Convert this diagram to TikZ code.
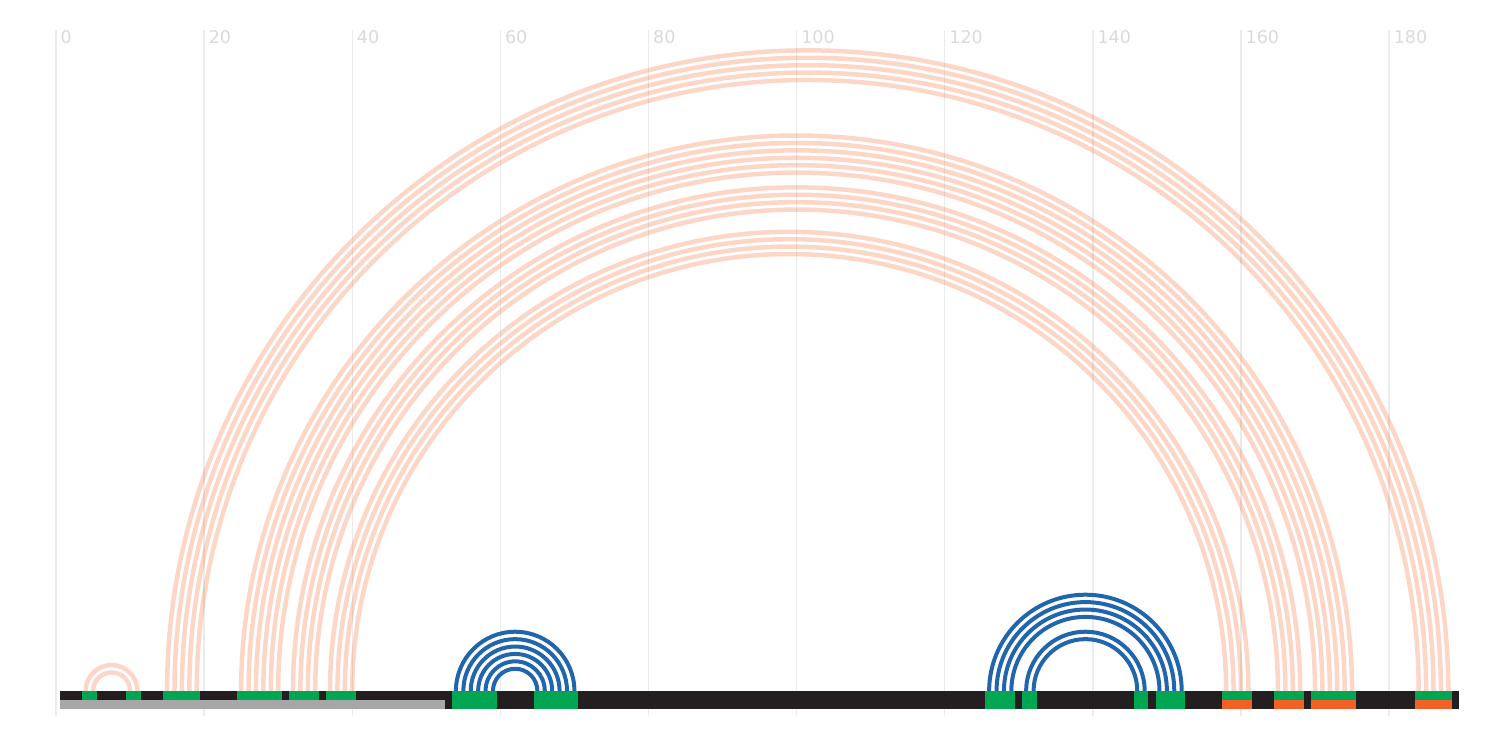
\documentclass[tikz,border=0pt]{standalone}
\usepackage{fontspec}
\setmainfont{DejaVu Sans}
\usetikzlibrary{calc}
\definecolor{strand}{HTML}{231F20}
\definecolor{paired}{HTML}{00A651}
\definecolor{flagged}{HTML}{F26025}
\definecolor{masked}{HTML}{A7A7A7}
\definecolor{helix}{HTML}{2166AC}
\definecolor{gridgray}{HTML}{EBEBEB}
\definecolor{ticktext}{HTML}{DADADA}

\begin{document}
\begin{tikzpicture}[x=7.406pt,y=7.406pt,
    grid line/.style={draw=gridgray,line width=1.4pt},
    tick label/.style={anchor=north west,inner sep=0pt,xshift=4.5pt,text=ticktext,font=\fontsize{17.5}{17.5}\selectfont},
    half circle/.style={to path={let \p1=(\tikztostart),\p2=(\tikztotarget) in arc[start angle=180,end angle=0,radius={(\x2-\x1)/2}]}},
    long range/.style={half circle,draw=flagged,draw opacity=0.25,line width=4.5pt},
    local range/.style={half circle,draw=helix,line width=4pt},
    strand box/.style={fill=strand},
    paired box/.style={fill=paired},
    masked box/.style={fill=masked},
    flagged box/.style={fill=flagged}]
            \useasboundingbox (-7.561,-7.156) rectangle (196.6,93.30);

            \foreach \v in {0,20,...,180}{
                \draw[grid line] (\v,-3.38) -- (\v,89.25);
                \node[tick label] (tick\v) at (\v,89.25) {\v};
            }

            \foreach \i in {1,...,189}
                \coordinate (n\i) at (\i,0);

            \path
                (n4) edge[long range] (n11)
                (n5) edge[long range] (n10)

                (n15) edge[long range] (n188)
                (n16) edge[long range] (n187)
                (n17) edge[long range] (n186)
                (n18) edge[long range] (n185)
                (n19) edge[long range] (n184)

                (n25) edge[long range] (n175)
                (n26) edge[long range] (n174)
                (n27) edge[long range] (n173)
                (n28) edge[long range] (n172)
                (n29) edge[long range] (n171)
                (n30) edge[long range] (n170)

                (n32) edge[long range] (n168)
                (n33) edge[long range] (n167)
                (n34) edge[long range] (n166)
                (n35) edge[long range] (n165)

                (n37) edge[long range] (n161)
                (n38) edge[long range] (n160)
                (n39) edge[long range] (n159)
                (n40) edge[long range] (n158)
            ;

            \path
                (n54) edge[local range] (n70)
                (n55) edge[local range] (n69)
                (n56) edge[local range] (n68)
                (n57) edge[local range] (n67)
                (n58) edge[local range] (n66)
                (n59) edge[local range] (n65)

                (n126) edge[local range] (n152)
                (n127) edge[local range] (n151)
                (n128) edge[local range] (n150)
                (n129) edge[local range] (n149)
                (n131) edge[local range] (n147)
                (n132) edge[local range] (n146)
            ;

            \fill[strand box] (0.5,0) rectangle (189.5,-2.43);
            \foreach \a/\b in {4/5,10/11,15/19,25/30,32/35,37/40,54/59,65/70,126/129,131/132,146/147,149/152,158/161,165/168,170/175,184/188}
                \fill[paired box] (\a-0.5,0) rectangle (\b+0.5,-2.43);
            \fill[masked box] (0.5,-1.215) rectangle (52.5,-2.43);
            \foreach \a/\b in {158/161,165/168,170/175,184/188}
                \fill[flagged box] (\a-0.5,-1.215) rectangle (\b+0.5,-2.43);
        \end{tikzpicture}
\end{document}
